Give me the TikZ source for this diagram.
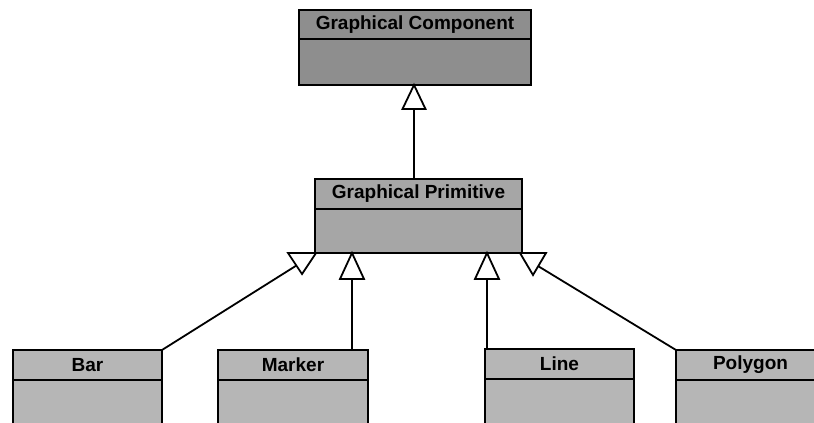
\documentclass[tikz,border=0pt]{standalone}
\usepackage{fontspec}
\setmainfont{Liberation Sans}
\usetikzlibrary{calc}

\definecolor{gcfill}{HTML}{8E8E8E}
\definecolor{gpfill}{HTML}{A6A6A6}
\definecolor{leaffill}{HTML}{B6B6B6}

\tikzset{
  part/.style={draw=black, line width=1.8pt, rectangle, inner sep=0pt, outer sep=0pt,
               anchor=north west, font=\fontsize{19}{22}\selectfont\bfseries},
  wire/.style={draw=black, line width=1.8pt},
  hollowtip/.style={draw=black, fill=white, line width=1.8pt, line join=miter},
}

\begin{document}
\begin{tikzpicture}[x=1pt, y=-1pt]
  \path[use as bounding box, clip] (0,0) rectangle (814,423);
  \fill[white] (0,0) rectangle (814,423);

  % Graphical Component
  \node[part, fill=gcfill, minimum width=232, minimum height=29] (gc) at (299,10) {Graphical Component};
  \node[part, fill=gcfill, minimum width=232, minimum height=46] (gcb) at (gc.south west) {};

  % Graphical Primitive
  \node[part, fill=gpfill, minimum width=207, minimum height=30] (gp) at (315,179) {Graphical Primitive};
  \node[part, fill=gpfill, minimum width=207, minimum height=44] (gpb) at (gp.south west) {};

  % leaf classes
  \node[part, fill=leaffill, minimum width=149, minimum height=30] (bar) at (13,350) {Bar};
  \node[part, fill=leaffill, minimum width=149, minimum height=70] (barb) at (bar.south west) {};
  \node[part, fill=leaffill, minimum width=150, minimum height=30] (marker) at (218,350) {Marker};
  \node[part, fill=leaffill, minimum width=150, minimum height=70] (markerb) at (marker.south west) {};
  \node[part, fill=leaffill, minimum width=149, minimum height=30] (line) at (485,349) {Line};
  \node[part, fill=leaffill, minimum width=149, minimum height=70] (lineb) at (line.south west) {};
  \node[part, fill=leaffill, minimum width=149, minimum height=30] (poly) at (676,350) {Polygon};
  \node[part, fill=leaffill, minimum width=149, minimum height=70] (polyb) at (poly.south west) {};

  % attachment points
  \coordinate (gpTop) at ($(gp.north)+(-4.5,0)$);
  \coordinate (gcTip) at (gpTop |- gcb.south);
  \coordinate (mkTop) at ($(marker.north east)+(-16,0)$);
  \coordinate (mkTip) at (mkTop |- gpb.south);
  \coordinate (lnTop) at ($(line.north west)+(2,0)$);
  \coordinate (lnTip) at (lnTop |- gpb.south);
  \coordinate (barTip) at ($(gpb.south west)+(-13,21)$);
  \coordinate (polyTip) at ($(gpb.south east)+(11,22)$);

  % generalisation lines
  \draw[wire] (gpTop) -- (gcTip);
  \draw[wire] (mkTop) -- (mkTip);
  \draw[wire] (lnTop) -- (lnTip);
  \draw[wire] (bar.north east) -- ($(barTip)+(0,-12)$);
  \draw[wire] (poly.north west) -- ($(polyTip)+(0,-12)$);

  % hollow triangle heads
  \draw[hollowtip] (gcTip) -- ++(-11.5,24) -- ++(23,0) -- cycle;
  \draw[hollowtip] (mkTip) -- ++(-12,26) -- ++(24,0) -- cycle;
  \draw[hollowtip] (lnTip) -- ++(-12,26) -- ++(24,0) -- cycle;
  \draw[hollowtip] (barTip) -- ++(-14,-21) -- ++(28,0) -- cycle;
  \draw[hollowtip] (polyTip) -- ++(-13,-22) -- ++(26,0) -- cycle;
\end{tikzpicture}
\end{document}
